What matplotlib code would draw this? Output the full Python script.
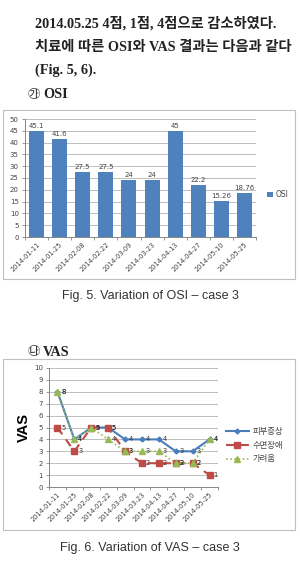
import matplotlib
matplotlib.use('Agg')
import matplotlib.pyplot as plt
from matplotlib.patches import Rectangle
import numpy as np

dates = ['2014-01-11', '2014-01-25', '2014-02-08', '2014-02-22', '2014-03-09',
         '2014-03-23', '2014-04-13', '2014-04-27', '2014-05-10', '2014-05-25']
osi = [45.1, 41.6, 27.5, 27.5, 24, 24, 45, 22.2, 15.26, 18.76]
osi_labels = ['45.1', '41.6', '27.5', '27.5', '24', '24', '45', '22.2', '15.26', '18.76']

vas_names = ['피부증상', '수면장애', '가려움']
skin = [8, 4, 5, 5, 4, 4, 4, 3, 3, 4]
sleep = [5, 3, 5, 5, 3, 2, 2, 2, 2, 1]
itch = [8, 4, 5, 4, 3, 3, 3, 2, 2, 4]

serif_kr = ['Liberation Serif', 'Noto Sans CJK KR']
narrow = ['Liberation Sans Narrow', 'Liberation Sans', 'DejaVu Sans']
kr = ['Noto Sans CJK KR', 'DejaVu Sans']

W, H = 300, 577
fig = plt.figure(figsize=(W / 100, H / 100), dpi=100)

def fy(y):
    return 1 - y / H

# body text
body = dict(family=serif_kr, fontsize=10.3, weight='bold', va='center', color='#222222')
fig.text(35 / W, fy(23), '2014.05.25 4점, 1점, 4점으로 감소하였다.', **body)
fig.text(35 / W, fy(47), '치료에 따른 OSI와 VAS 결과는 다음과 같다', **body)
fig.text(35 / W, fy(70), '(Fig. 5, 6).', **body)
fig.text(28 / W, fy(95), '㉮', family=kr, fontsize=9, va='center', color='#333333')
fig.text(43 / W, fy(95), 'OSI', **body)
fig.text(28 / W, fy(352), '㉯', family=kr, fontsize=9, va='center', color='#333333')
fig.text(43 / W, fy(352), 'VAS', **body)

# captions
fig.text(0.5, fy(296), 'Fig. 5. Variation of OSI – case 3', family=narrow,
         fontsize=9, ha='center', va='center', color='#333333')
fig.text(0.5, fy(548), 'Fig. 6. Variation of VAS – case 3', family=narrow,
         fontsize=9, ha='center', va='center', color='#333333')

# chart frames
for y0, y1 in [(110, 279), (359, 530)]:
    fig.patches.append(Rectangle((3 / W, fy(y1)), 292 / W, (y1 - y0) / H,
                                 transform=fig.transFigure, fill=False,
                                 edgecolor='#bfbfbf', linewidth=0.8))

grid_c = '#bfbfbf'
tick_c = '#444444'

def excel_axes(ax, ymax, step):
    ax.set_ylim(0, ymax)
    ax.set_yticks(np.arange(0, ymax + 0.1, step))
    ax.yaxis.grid(True, color=grid_c, linewidth=0.7)
    ax.set_axisbelow(True)
    for s in ['top', 'right']:
        ax.spines[s].set_visible(False)
    for s in ['left', 'bottom']:
        ax.spines[s].set_color('#868686')
        ax.spines[s].set_linewidth(0.7)
    ax.tick_params(axis='y', labelsize=5, colors='#868686', labelcolor=tick_c,
                   length=2.5, width=0.6, pad=2)
    ax.set_xlim(-0.5, len(dates) - 0.5)
    ax.set_xticks(np.arange(len(dates)))
    ax.set_xticklabels(dates, rotation=45, ha='right', rotation_mode='anchor',
                       fontsize=4.8, color=tick_c)
    ax.tick_params(axis='x', length=0, pad=3)
    ax.set_xticks(np.arange(len(dates) + 1) - 0.5, minor=True)
    ax.tick_params(axis='x', which='minor', length=2.5, width=0.6, colors='#868686')

# OSI bar chart
ax1 = fig.add_axes([25 / W, fy(237), 231 / W, 118 / H])
x = np.arange(len(dates))
ax1.bar(x, osi, width=0.65, color='#4f81bd', label='OSI')
excel_axes(ax1, 50, 5)
for xi, v, t in zip(x, osi, osi_labels):
    ax1.text(xi, v + 0.8, t, ha='center', va='bottom', fontsize=5, color=tick_c)
ax1.legend(loc='center left', bbox_to_anchor=(1.02, 0.36), frameon=False,
           fontsize=5.5, handlelength=0.7, handleheight=0.7, handletextpad=0.3,
           labelcolor=tick_c)

# VAS line chart
ax2 = fig.add_axes([49 / W, fy(487), 169 / W, 119 / H])
ax2.plot(x, skin, color='#4a7ebb', lw=1.5, marker='D', ms=2.5, label=vas_names[0])
ax2.plot(x, sleep, color='#be4b48', lw=1.5, ls=(0, (4, 3)), marker='s', ms=4,
         label=vas_names[1])
ax2.plot(x, itch, color='#98b954', lw=1.2, ls=(0, (1, 1.5)), marker='^', ms=4,
         label=vas_names[2])
excel_axes(ax2, 10, 1)
for series in [skin, sleep, itch]:
    for xi, v in zip(x, series):
        ax2.text(xi + 0.35, v, str(v), ha='center', va='center', fontsize=4.8,
                 color='#333333')
ax2.set_ylabel('VAS', fontsize=10.5, weight='bold', family=['Liberation Sans'],
               labelpad=2)
ax2.legend(loc='center left', bbox_to_anchor=(1.0, 0.35), frameon=False,
           prop={'family': kr, 'size': 6}, handlelength=2.8, labelcolor=tick_c,
           labelspacing=0.55, handletextpad=0.5)

fig.savefig('out.png', dpi=100)
